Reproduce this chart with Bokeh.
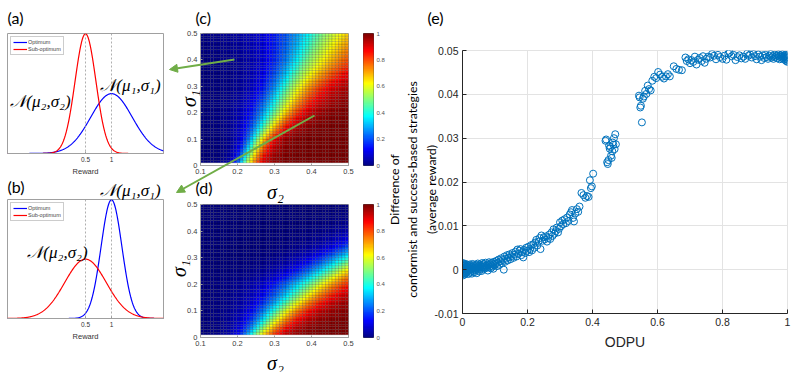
import numpy as np
from bokeh.plotting import figure
from bokeh.layouts import row, column
from bokeh.models import (ColumnDataSource, Label, Arrow, NormalHead, Span, FixedTicker,
                          Legend, LegendItem, LinearColorMapper, Range1d)
from bokeh.embed import file_html
from bokeh.resources import INLINE

# ---------------- data ----------------
# (a), (b): normal reward distributions  [optimum, sub-optimum]
REWARD_MU = [1.0, 0.5]
SIGMA_A = [0.4, 0.2]
SIGMA_B = [0.2, 0.4]
REWARD_TICKS = [0.5, 1.0]
REWARD_TICK_LABELS = ["0.5", "1"]

# (c), (d): heat maps over sigma2 (x) and sigma1 (y)
SIG2_TICKS = [0.1, 0.2, 0.3, 0.4, 0.5]
SIG2_TICK_LABELS = ["0.1", "0.2", "0.3", "0.4", "0.5"]
SIG1_TICKS = [0.0, 0.1, 0.2, 0.3, 0.4, 0.5]
SIG1_TICK_LABELS = ["0", "0.1", "0.2", "0.3", "0.4", "0.5"]
CB_TICKS = [0.0, 0.2, 0.4, 0.6, 0.8, 1.0]
CB_TICK_LABELS = ["0", "0.2", "0.4", "0.6", "0.8", "1"]
# per sigma1 row: sigma2 where the value crosses 0.5, and spread below / above it
SIG1_ROWS = [0.0, 0.1, 0.2, 0.3, 0.4, 0.5]
C_MID = [0.218, 0.254, 0.303, 0.343, 0.390, 0.430]
C_SLO = [0.016, 0.022, 0.038, 0.042, 0.055, 0.075]
C_SHI = [0.022, 0.024, 0.039, 0.055, 0.080, 0.097]
D_MID = [0.241, 0.313, 0.400, 0.520, 0.660, 0.800]
D_SLO = [0.024, 0.040, 0.058, 0.060, 0.060, 0.060]
D_SHI = [0.030, 0.045, 0.060, 0.060, 0.060, 0.060]

# (e): scatter
ODPU = [0.000, 0.000, 0.000, 0.000, 0.000, 0.001, 0.001, 0.002, 0.002, 0.002, 0.003, 0.003, 0.004, 0.004,
        0.005, 0.005, 0.006, 0.006, 0.007, 0.008, 0.008, 0.009, 0.010, 0.010, 0.011, 0.012, 0.013, 0.014,
        0.015, 0.016, 0.017, 0.018, 0.019, 0.020, 0.021, 0.022, 0.023, 0.024, 0.025, 0.026, 0.028, 0.029,
        0.030, 0.031, 0.032, 0.034, 0.035, 0.036, 0.038, 0.039, 0.040, 0.042, 0.043, 0.044, 0.046, 0.047,
        0.048, 0.050, 0.051, 0.053, 0.054, 0.056, 0.057, 0.059, 0.060, 0.062, 0.063, 0.065, 0.066, 0.068,
        0.070, 0.071, 0.073, 0.075, 0.077, 0.078, 0.080, 0.082, 0.083, 0.085, 0.087, 0.088, 0.090, 0.092,
        0.094, 0.095, 0.097, 0.099,
        0.101, 0.104, 0.106, 0.109, 0.111, 0.114, 0.116, 0.119, 0.121, 0.124, 0.127, 0.129, 0.131, 0.134,
        0.137, 0.139, 0.142, 0.145, 0.148, 0.151, 0.154, 0.157, 0.160, 0.163, 0.166, 0.169, 0.172, 0.175,
        0.178, 0.181, 0.184, 0.187, 0.190, 0.193, 0.196, 0.199,
        0.202, 0.205, 0.208, 0.211, 0.214, 0.218, 0.221, 0.224, 0.227, 0.230, 0.234, 0.237, 0.240, 0.243,
        0.246, 0.250, 0.253, 0.257, 0.260, 0.264, 0.267, 0.270, 0.274, 0.277, 0.280, 0.283, 0.287, 0.290,
        0.294, 0.297,
        0.300, 0.303, 0.307, 0.310, 0.314, 0.318, 0.322, 0.326, 0.330, 0.334, 0.337, 0.340, 0.343, 0.347,
        0.352, 0.356, 0.360, 0.366, 0.372, 0.378, 0.383, 0.388, 0.392, 0.395, 0.398, 0.402,
        0.440, 0.442, 0.445, 0.447, 0.449, 0.451, 0.453, 0.455, 0.457, 0.459, 0.461, 0.462, 0.464, 0.466,
        0.468, 0.470, 0.472,
        0.543, 0.545, 0.547, 0.549, 0.552, 0.555, 0.558, 0.562, 0.566, 0.570, 0.574, 0.579, 0.584, 0.590,
        0.596, 0.602, 0.608, 0.614, 0.620, 0.626, 0.632, 0.638, 0.650, 0.658, 0.666, 0.675, 0.686, 0.690,
        0.695, 0.700, 0.705, 0.710, 0.715, 0.720, 0.725, 0.730, 0.736, 0.740, 0.745, 0.750, 0.756, 0.762,
        0.768, 0.774, 0.780, 0.786, 0.792, 0.800, 0.806, 0.812, 0.818, 0.822, 0.828, 0.834, 0.840, 0.846,
        0.852, 0.858, 0.864, 0.870, 0.876, 0.880, 0.885, 0.890, 0.895, 0.900, 0.905, 0.910, 0.915, 0.920,
        0.924, 0.928, 0.932, 0.936, 0.940, 0.944, 0.948, 0.951, 0.954, 0.957, 0.960, 0.963, 0.966, 0.969,
        0.972, 0.974, 0.976, 0.978, 0.980, 0.982, 0.984, 0.986, 0.988, 0.990, 0.992, 0.994, 0.995, 0.996,
        0.997, 0.998, 0.999, 1.000, 1.000, 1.000]
REWARD_DIFF = [0.0013, 0.0006, -0.0002, -0.0010, 0.0001, 0.0009, -0.0006, 0.0003, -0.0013, 0.0015, 0.0000,
               0.0008, -0.0008, 0.0004, 0.0012, -0.0003, 0.0006, -0.0011, 0.0002, 0.0010, -0.0005, 0.0004,
               -0.0009, 0.0013, 0.0001, 0.0007, -0.0006, 0.0003, 0.0011, -0.0002, 0.0005, -0.0010, 0.0009,
               0.0000, 0.0004, -0.0007, 0.0012, 0.0002, -0.0004, 0.0008, 0.0001, -0.0009, 0.0006, 0.0013,
               -0.0003, 0.0004, 0.0010, -0.0006, 0.0002, 0.0007, -0.0001, 0.0011, 0.0003, -0.0008, 0.0006,
               0.0014, 0.0000, 0.0009, -0.0004, 0.0005, 0.0012, 0.0002, 0.0008, -0.0003, 0.0015, 0.0006,
               0.0010, 0.0001, 0.0013, 0.0007, 0.0003, 0.0016, 0.0009, 0.0005, 0.0012, -0.0002, 0.0010,
               0.0017, 0.0006, 0.0013, 0.0003, 0.0009, 0.0016, 0.0007, 0.0012, 0.0002, 0.0018, 0.0010,
               0.0014, 0.0020, 0.0008, 0.0016, 0.0023, 0.0011, 0.0019, 0.0026, 0.0015, 0.0022, 0.0000,
               0.0030, 0.0018, 0.0025, 0.0033, 0.0021, 0.0028, 0.0035, 0.0024, 0.0031, 0.0038, 0.0027,
               0.0034, 0.0041, 0.0030, 0.0046, 0.0036, 0.0043, 0.0047, 0.0033, 0.0040, 0.0028, 0.0045,
               0.0038, 0.0050, 0.0043,
               0.0052, 0.0040, 0.0047, 0.0056, 0.0044, 0.0058, 0.0050, 0.0062, 0.0068, 0.0055, 0.0064,
               0.0072, 0.0047, 0.0078, 0.0066, 0.0074, 0.0069, 0.0076, 0.0064, 0.0072, 0.0080, 0.0070,
               0.0085, 0.0077, 0.0092, 0.0082, 0.0088, 0.0096, 0.0085, 0.0093,
               0.0108, 0.0099, 0.0112, 0.0104, 0.0115, 0.0106, 0.0119, 0.0111, 0.0126, 0.0131, 0.0136,
               0.0118, 0.0110, 0.0128, 0.0138, 0.0132, 0.0144, 0.0175, 0.0170, 0.0164, 0.0168, 0.0166,
               0.0204, 0.0186, 0.0190, 0.0219,
               0.0294, 0.0297, 0.0245, 0.0241, 0.0250, 0.0283, 0.0276, 0.0280, 0.0260, 0.0255, 0.0270,
               0.0290, 0.0285, 0.0300, 0.0275, 0.0309, 0.0286,
               0.0397, 0.0393, 0.0370, 0.0374, 0.0336, 0.0390, 0.0395, 0.0408, 0.0401, 0.0420, 0.0412,
               0.0409, 0.0431, 0.0440, 0.0437, 0.0451, 0.0445, 0.0440, 0.0436, 0.0441, 0.0446, 0.0441,
               0.0464, 0.0458, 0.0456, 0.0455, 0.0484, 0.0476, 0.0480, 0.0471, 0.0478, 0.0474, 0.0486,
               0.0468, 0.0479, 0.0483, 0.0476, 0.0487, 0.0472, 0.0481, 0.0486, 0.0484, 0.0492, 0.0488,
               0.0480, 0.0490, 0.0485, 0.0481, 0.0488, 0.0479, 0.0493, 0.0495, 0.0487, 0.0490, 0.0478,
               0.0485, 0.0489, 0.0482, 0.0486, 0.0481, 0.0493, 0.0488, 0.0491, 0.0484, 0.0492, 0.0487,
               0.0480, 0.0491, 0.0486, 0.0478, 0.0489, 0.0483, 0.0490, 0.0485, 0.0481, 0.0488, 0.0492,
               0.0484, 0.0487, 0.0481, 0.0490, 0.0485, 0.0488, 0.0482, 0.0491, 0.0486, 0.0480, 0.0489,
               0.0484, 0.0487, 0.0491, 0.0482, 0.0486, 0.0479, 0.0488, 0.0483, 0.0490, 0.0476, 0.0485,
               0.0480, 0.0487, 0.0478, 0.0483, 0.0474]
E_XTICKS = [0.0, 0.2, 0.4, 0.6, 0.8, 1.0]
E_XTICK_LABELS = ["0", "0.2", "0.4", "0.6", "0.8", "1"]
E_YTICKS = [-0.01, 0.0, 0.01, 0.02, 0.03, 0.04, 0.05]
E_YTICK_LABELS = ["-0.01", "0", "0.01", "0.02", "0.03", "0.04", "0.05"]
E_YLABEL = ["Difference of", "conformist and success-based strategies", "(average reward)"]

# ---------------- styling helpers ----------------
GREEN = "#70ad47"
TICK_FONT = "Liberation Sans"
LAB_FONT = "Lato"
MATH_FONT = "Liberation Serif"


def jet_palette(n=256):
    t = np.linspace(0, 1, n)
    r = np.clip(1.5 - np.abs(4 * t - 3), 0, 1)
    g = np.clip(1.5 - np.abs(4 * t - 2), 0, 1)
    b = np.clip(1.5 - np.abs(4 * t - 1), 0, 1)
    return ["#%02x%02x%02x" % (int(round(a * 255)), int(round(c * 255)), int(round(d * 255)))
            for a, c, d in zip(r, g, b)]


JET = jet_palette()
mapper = LinearColorMapper(palette=JET, low=0, high=1)


def base_fig(w, h, rng, l, r, t, b, **kw):
    p = figure(width=w, height=h, x_range=(rng[0], rng[1]), y_range=(rng[2], rng[3]),
               output_backend="svg", toolbar_location=None,
               min_border_left=l, min_border_right=r, min_border_top=t, min_border_bottom=b, **kw)
    p.xgrid.visible = False
    p.ygrid.visible = False
    p.background_fill_color = "white"
    p.border_fill_color = "white"
    return p


def style_axis(ax, ticks, labels, size, color, line_color, standoff=3, tick_in=2):
    ax.ticker = FixedTicker(ticks=ticks)
    ax.major_label_overrides = dict(zip(ticks, labels))
    ax.major_label_text_font = TICK_FONT
    ax.major_label_text_font_size = size
    ax.major_label_text_color = color
    ax.major_label_standoff = standoff
    ax.major_tick_in = tick_in
    ax.major_tick_out = 0
    ax.minor_tick_line_color = None
    ax.axis_line_color = line_color
    ax.major_tick_line_color = line_color


# ---------------- (a) and (b) ----------------
def gauss_panel(sig, h, top, bottom):
    p = base_fig(166, h, (-1.0, 2.0, 0.0, 2.0), 7, 3, top, bottom)
    p.yaxis.visible = False
    xs = np.linspace(-1, 2, 361)
    curves = []
    for mu, s, col in zip(REWARD_MU, sig, ["#0000ff", "#ff0000"]):
        ys = np.exp(-(xs - mu) ** 2 / (2 * s * s)) / (s * np.sqrt(2 * np.pi))
        curves.append(p.line(xs, ys, line_color=col, line_width=1.2))
    for t in REWARD_TICKS:
        p.add_layout(Span(location=t, dimension="height", line_color="#9a9a9a",
                          line_dash="2 2", line_width=0.8))
    ax = p.xaxis[0]
    style_axis(ax, REWARD_TICKS, REWARD_TICK_LABELS, "6.5px", "#333333", "#a0a0a0")
    ax.axis_label = "Reward"
    ax.axis_label_text_font = TICK_FONT
    ax.axis_label_text_font_size = "7.5px"
    ax.axis_label_text_font_style = "normal"
    ax.axis_label_text_color = "#333333"
    ax.axis_label_standoff = 2
    p.outline_line_color = "#a0a0a0"
    leg = Legend(items=[LegendItem(label="Optimum", renderers=[curves[0]]),
                        LegendItem(label="Sub-optimum", renderers=[curves[1]])],
                 location="top_left", label_text_font=TICK_FONT, label_text_font_size="5.5px",
                 glyph_height=6, glyph_width=14, label_height=6, spacing=1, padding=2,
                 margin=3, label_standoff=1, border_line_color="#9a9a9a", border_line_width=0.6)
    p.add_layout(leg)
    return p


pa = gauss_panel(SIGMA_A, 180, 33, 27)
pb = gauss_panel(SIGMA_B, 192, 19, 54)

# ---------------- (c) and (d) ----------------
S2_EDGES = np.linspace(0.1, 0.5, 46)
S1_EDGES = np.linspace(0.01, 0.5, 50)


def heat_values(mid, slo, shi):
    s2c = (S2_EDGES[:-1] + S2_EDGES[1:]) / 2
    s1c = (S1_EDGES[:-1] + S1_EDGES[1:]) / 2
    S2, S1 = np.meshgrid(s2c, s1c)
    m = np.interp(S1, SIG1_ROWS, mid)
    s = np.where(S2 < m, np.interp(S1, SIG1_ROWS, slo), np.interp(S1, SIG1_ROWS, shi))
    return 1.0 / (1.0 + np.exp(-(S2 - m) / s))


def heat_panel(mid, slo, shi, h, top, bottom):
    p = base_fig(197, h, (0.1, 0.5, 0.0, 0.5), 34, 15, top, bottom)
    v = heat_values(mid, slo, shi)
    L, B = np.meshgrid(S2_EDGES[:-1], S1_EDGES[:-1])
    R, T = np.meshgrid(S2_EDGES[1:], S1_EDGES[1:])
    src = ColumnDataSource(dict(left=L.ravel(), right=R.ravel(), bottom=B.ravel(),
                                top=T.ravel(), v=v.ravel()))
    p.quad(left="left", right="right", bottom="bottom", top="top", source=src,
           fill_color={"field": "v", "transform": mapper},
           line_color="black", line_alpha=0.3, line_width=0.5)
    style_axis(p.xaxis[0], SIG2_TICKS, SIG2_TICK_LABELS, "7.5px", "#404040", "#a0a0a0")
    style_axis(p.yaxis[0], SIG1_TICKS, SIG1_TICK_LABELS, "7.5px", "#404040", "#a0a0a0")
    p.outline_line_color = "#a0a0a0"
    return p


def cbar_panel(h, top, bottom):
    p = base_fig(25, h, (0.0, 1.0, 0.0, 1.0), 0, 15, top, bottom, y_axis_location="right")
    p.xaxis.visible = False
    n = len(JET)
    lev = np.arange(n) / n
    p.quad(left=0, right=1, bottom=lev, top=lev + 1.0 / n, fill_color=JET, line_color=JET,
           line_width=0.6)
    style_axis(p.yaxis[0], CB_TICKS, CB_TICK_LABELS, "6px", "#555555", None, standoff=3, tick_in=0)
    p.yaxis[0].major_tick_line_color = None
    p.outline_line_color = "black"
    p.outline_line_width = 0.7
    return p


pc = heat_panel(C_MID, C_SLO, C_SHI, 185, 33, 20)
pd = heat_panel(D_MID, D_SLO, D_SHI, 187, 19, 35)
cbc = cbar_panel(185, 33, 20)
cbd = cbar_panel(187, 19, 35)

# ---------------- (e) ----------------
pe = base_fig(404, 372, (0.0, 1.0, -0.01, 0.05), 74, 5, 50, 59)
pe.xgrid.visible = True
pe.ygrid.visible = True
pe.xgrid.grid_line_color = "#e3e3e3"
pe.ygrid.grid_line_color = "#e3e3e3"
pe.scatter(ODPU, REWARD_DIFF, marker="circle", size=7, fill_color=None,
           line_color="#0072bd", line_width=1)
style_axis(pe.xaxis[0], E_XTICKS, E_XTICK_LABELS, "10.5px", "#262626", "#262626", standoff=4, tick_in=4)
style_axis(pe.yaxis[0], E_YTICKS, E_YTICK_LABELS, "10.5px", "#262626", "#262626", standoff=4, tick_in=4)
pe.xaxis.axis_label = "ODPU"
pe.xaxis.axis_label_text_font = TICK_FONT
pe.xaxis.axis_label_text_font_size = "14px"
pe.xaxis.axis_label_text_font_style = "normal"
pe.xaxis.axis_label_text_color = "#262626"
pe.xaxis.axis_label_standoff = 5
pe.outline_line_color = "#e3e3e3"

main = row(column(pa, pb, spacing=0), column(pc, pd, spacing=0), column(cbc, cbd, spacing=0),
           pe, spacing=0)

# ---------------- overlay for free texts and arrows (page pixel space) ----------------
OW, OH = 784, 372
ov = figure(width=OW, height=OH, frame_width=OW, frame_height=OH,
            x_range=Range1d(0, OW), y_range=Range1d(OH, 0),
            output_backend="svg", toolbar_location=None,
            min_border_left=0, min_border_right=0, min_border_top=0, min_border_bottom=0,
            stylesheets=[":host { margin-top: -372px !important; }"])
ov.xaxis.visible = False
ov.yaxis.visible = False
ov.xgrid.visible = False
ov.ygrid.visible = False
ov.outline_line_color = None
ov.background_fill_alpha = 0
ov.border_fill_alpha = 0


def put(x, y, text, size, font, style="normal", align="center", baseline="middle", angle=0.0,
        color="black"):
    ov.add_layout(Label(x=x, y=y, text=text, text_font_size=f"{size}px", text_font=font,
                        text_font_style=style, text_align=align, text_baseline=baseline,
                        angle=angle, text_color=color))


for x, y, t in ((7, 7, "(a)"), (7, 176, "(b)"), (195, 7, "(c)"), (195, 177, "(d)"), (427, 7, "(e)")):
    put(x, y, t, 16, LAB_FONT, align="left", baseline="top")

put(40, 101, "𝒩(μ₂,σ₂)", 17, MATH_FONT, style="italic")
put(130, 85, "𝒩(μ₁,σ₁)", 17, MATH_FONT, style="italic")
put(130, 190, "𝒩(μ₁,σ₁)", 17, MATH_FONT, style="italic")
put(57, 252, "𝒩(μ₂,σ₂)", 17, MATH_FONT, style="italic")

put(188, 98, "σ₁", 20, MATH_FONT, style="italic", angle=np.pi / 2)
put(275, 191, "σ₂", 20, MATH_FONT, style="italic")
put(178, 268, "σ₁", 20, MATH_FONT, style="italic", angle=np.pi / 2)
put(275, 362, "σ₂", 20, MATH_FONT, style="italic")

for x, t in zip((394, 412, 431), E_YLABEL):
    put(x, 189, t, 12.3, LAB_FONT, angle=np.pi / 2)

for (tx, ty), (hx, hy) in (((234, 59), (169, 69)), ((314, 115), (176, 192))):
    ov.add_layout(Arrow(end=NormalHead(size=8, fill_color=GREEN, line_color=GREEN),
                        x_start=tx, y_start=ty, x_end=hx, y_end=hy,
                        line_color=GREEN, line_width=2))

layout = column(main, ov, spacing=0)
open("out.html", "w").write(file_html(layout, INLINE))
